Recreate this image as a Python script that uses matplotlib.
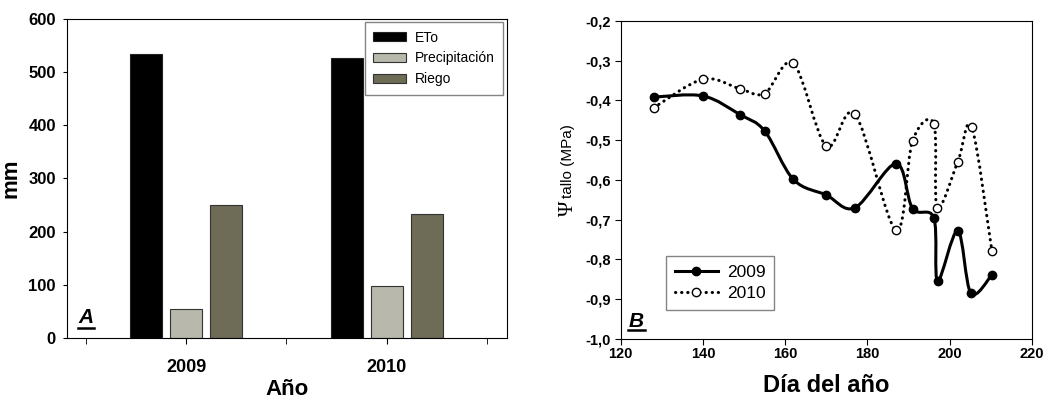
import matplotlib
matplotlib.use("Agg")
import matplotlib.pyplot as plt
import numpy as np
from matplotlib.path import Path
from matplotlib.patches import PathPatch
from matplotlib.lines import Line2D

plt.rcParams['font.family'] = ['Liberation Sans', 'DejaVu Sans']

# panel A: water balance
years = ["2009", "2010"]
eto = [535, 526]
precip = [54, 98]
riego = [251, 234]

# panel B: stem water potential
day_2009 = [128, 140, 149, 155, 162, 170, 177, 187, 191, 196.2, 197.1, 202, 205.2, 210.3]
psi_2009 = [-0.392, -0.389, -0.436, -0.477, -0.599, -0.638, -0.670, -0.559, -0.672, -0.696, -0.854, -0.728, -0.885, -0.839]
day_2010 = [128, 140, 149, 155, 162, 170, 177, 187, 191, 196.2, 197, 202, 205.4, 210.3]
psi_2010 = [-0.419, -0.347, -0.371, -0.383, -0.307, -0.515, -0.435, -0.727, -0.502, -0.459, -0.670, -0.555, -0.467, -0.778]


def spline_path(x, y):
    # Catmull-Rom curve through the points, as cubic bezier segments
    p = np.column_stack([x, y]).astype(float)
    ext = np.vstack([p[0], p, p[-1]])
    verts = [p[0]]
    codes = [Path.MOVETO]
    for i in range(len(p) - 1):
        p0, p1, p2, p3 = ext[i], ext[i + 1], ext[i + 2], ext[i + 3]
        verts += [p1 + (p2 - p0) / 6, p2 - (p3 - p1) / 6, p2]
        codes += [Path.CURVE4] * 3
    return Path(verts, codes)


fig = plt.figure(figsize=(10.5, 4.03), dpi=100)
ax1 = fig.add_axes([0.0638, 0.1613, 0.419, 0.7916])
ax2 = fig.add_axes([0.5912, 0.1588, 0.3914, 0.7898])

# ---- A ----
centers = np.array([1, 3])
w = 0.32
ax1.bar(centers - 0.4, eto, w, color="black", edgecolor="#222222", linewidth=0.8, label="ETo")
ax1.bar(centers, precip, w, color="#b8b8ac", edgecolor="#333333", linewidth=0.8, label="Precipitación")
ax1.bar(centers + 0.4, riego, w, color="#6e6c56", edgecolor="#333333", linewidth=0.8, label="Riego")
ax1.set_xlim(-0.19, 4.2)
ax1.set_ylim(0, 600)
ax1.set_xticks(centers)
ax1.set_xticklabels(years, fontsize=13, fontweight="bold")
ax1.set_xticks([0, 2, 4], minor=True)
ax1.tick_params(axis="x", which="both", direction="out", length=4, pad=11)
ax1.tick_params(axis="y", direction="out", length=3, labelsize=12, pad=5)
for t in ax1.get_yticklabels():
    t.set_fontweight("bold")
ax1.set_xlabel("Año", fontsize=16, fontweight="bold", labelpad=2)
ax1.set_ylabel("mm", fontsize=16, fontweight="bold", labelpad=5)
ax1.legend(loc="upper right", fontsize=10, frameon=True, fancybox=False, edgecolor="#666666",
           handlelength=2.4, handleheight=0.6, borderpad=0.6, labelspacing=0.5,
           handletextpad=0.6, borderaxespad=0, bbox_to_anchor=(0.991, 0.99))
ax1.text(0.025, 0.047, "A", transform=ax1.transAxes, fontsize=15, fontweight="bold",
         fontstyle="italic")
ax1.plot([0.025, 0.062], [0.031, 0.031], transform=ax1.transAxes, color="black", lw=1.8)

# ---- B ----
dots = (0, (0.1, 1.9))
ax2.add_patch(PathPatch(spline_path(day_2009, psi_2009), fill=False, edgecolor="black", lw=2.2))
ax2.add_patch(PathPatch(spline_path(day_2010, psi_2010), fill=False, edgecolor="black", lw=2.2,
                        linestyle=dots, capstyle="round"))
ax2.plot(day_2009, psi_2009, "o", color="black", ms=6, zorder=3)
ax2.plot(day_2010, psi_2010, "o", mfc="white", mec="black", mew=1.0, ms=6, zorder=3)
ax2.set_xlim(120, 220)
ax2.set_ylim(-1.0, -0.2)
ax2.set_xticks(np.arange(120, 221, 20))
ax2.set_yticks(np.arange(-1.0, -0.15, 0.1))
ax2.set_yticklabels([f"{v:.1f}".replace(".", ",") for v in np.arange(-1.0, -0.15, 0.1)])
ax2.tick_params(axis="x", direction="out", length=4, labelsize=10.5, pad=2)
ax2.tick_params(axis="y", direction="out", length=4, labelsize=10.5, pad=3)
for t in ax2.get_xticklabels() + ax2.get_yticklabels():
    t.set_fontweight("bold")
ax2.set_xlabel("Día del año", fontsize=17, fontweight="bold", labelpad=9)
fig.text(0.541, 0.6005, "tallo (MPa)", rotation=90, fontsize=11, ha="center", va="center")
fig.text(0.541, 0.484, "Ψ", rotation=90, fontsize=15, ha="center", va="center",
         family=["Liberation Serif", "DejaVu Serif"])
h = [Line2D([], [], color="black", lw=2.2, marker="o", ms=6, label="2009"),
     Line2D([], [], color="black", lw=2.2, ls=dots, dash_capstyle="round", marker="o",
            mfc="white", ms=6, label="2010")]
ax2.legend(handles=h, loc="lower left", bbox_to_anchor=(0.11, 0.091), fontsize=12.5,
           fancybox=False, edgecolor="#666666", handlelength=2.5, borderpad=0.5,
           labelspacing=0.35, handletextpad=0.5, borderaxespad=0)
ax2.text(0.018, 0.038, "B", transform=ax2.transAxes, fontsize=15, fontweight="bold",
         fontstyle="italic")
ax2.plot([0.018, 0.058], [0.028, 0.028], transform=ax2.transAxes, color="black", lw=1.8)

fig.savefig("out.png", dpi=100)
